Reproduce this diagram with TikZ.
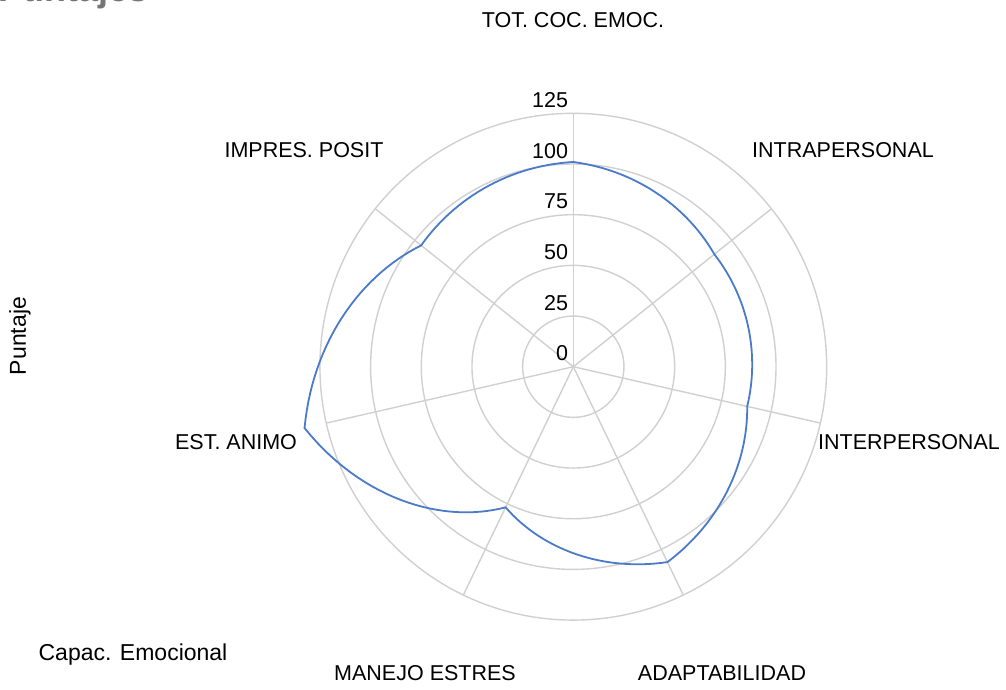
\documentclass[tikz,border=0pt]{standalone}
\usepackage{fontspec}
\setmainfont{Liberation Sans}
\definecolor{rejilla}{RGB}{208,208,208}
\definecolor{serie}{RGB}{74,122,200}
\definecolor{titulo}{RGB}{117,117,117}
\begin{document}
\begin{tikzpicture}[x=1pt,y=-1pt]

    % Styles
    \tikzstyle{cat} = [font=\fontsize{21.5}{24}\selectfont, inner sep=0pt]
    \tikzstyle{num} = [font=\fontsize{21.5}{24}\selectfont, inner sep=0pt]
    \tikzstyle{eje} = [font=\fontsize{23}{26}\selectfont, inner sep=0pt]
    \tikzstyle{grid} = [draw=rejilla, line width=1.4pt]
    \tikzset{linea/.style={draw=serie, line width=1.8pt, line join=round}}

    \useasboundingbox (0,0) rectangle (1006,689);
    \clip (0,0) rectangle (1006,689);

    % Titulo (cortado arriba)
    \node (titulo) [anchor=base west, inner sep=0pt, text=titulo, font=\fontsize{36}{40}\selectfont\bfseries] at (-2,1.5) {Puntajes};

    \coordinate (centro) at (573.3,366.7);

    \begin{scope}[shift={(centro)}, x=2.027pt, y=2.027pt]
        % Rejilla
        \foreach \v in {25,50,...,125}
            \draw [grid] (centro) circle[radius=\v];
        \foreach \i in {0,...,6} {
            \coordinate (eje\i) at ({90-\i*360/7}:125);
            \draw [grid] (centro) -- (eje\i);
        }
        % Serie
        \draw [linea] (90:101)
            \foreach \i/\ra/\rb in {0/101/89, 1/89/88, 2/88/107, 3/107/77, 4/77/136, 5/136/96, 6/96/101} {
                -- plot[domain=0:1, samples=30] ({90-(\i+\x)*360/7}:{\ra+(\rb-\ra)*\x})
            } -- cycle;
        % Escala
        \foreach \v in {0,25,...,125}
            \node (n\v) [num, anchor=base east, xshift=-5pt, yshift=6pt] at (0,\v) {\v};
    \end{scope}

    % Categorias
    \node (tot) [cat] at (573,20) {TOT. COC. EMOC.};
    \node (intra) [cat] at (843,150) {INTRAPERSONAL};
    \node (inter) [cat] at (909,442) {INTERPERSONAL};
    \node (adapt) [cat] at (722,673) {ADAPTABILIDAD};
    \node (manejo) [cat] at (425,673) {MANEJO ESTRES};
    \node (animo) [cat] at (236,442) {EST. ANIMO};
    \node (impres) [cat] at (304,150) {IMPRES. POSIT};

    % Ejes
    \node (puntaje) [eje, rotate=90] at (20,336) {Puntaje};
    \node (capac) [eje] at (133,655) {Capac. Emocional};

\end{tikzpicture}
\end{document}
